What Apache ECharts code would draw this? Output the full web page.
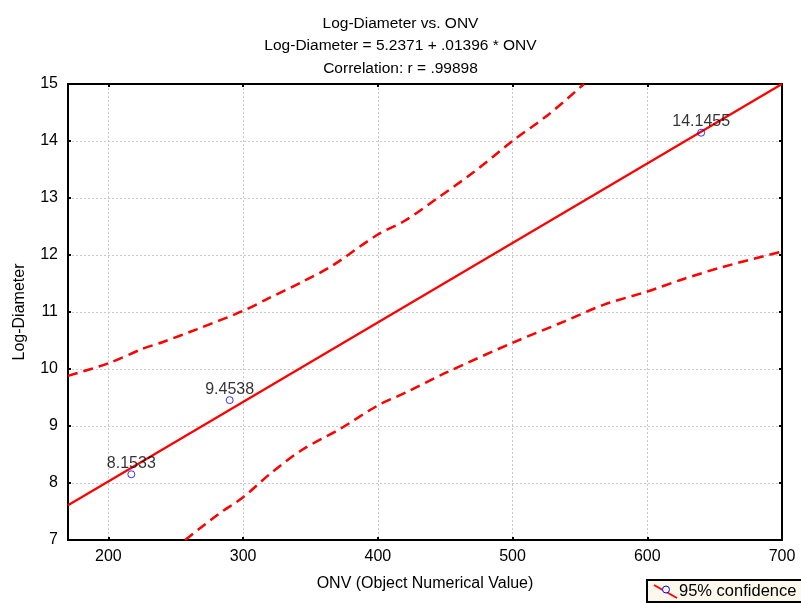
<!DOCTYPE html>
<html>
<head>
<meta charset="utf-8">
<script src="https://cdn.jsdelivr.net/npm/echarts@6/dist/echarts.min.js"></script>
<style>html,body{margin:0;padding:0;background:#fff}#c{width:801px;height:603px}</style>
</head>
<body>
<div id="c"></div>
<script>
// ---- data ----
var titleLines = ['Log-Diameter vs. ONV', 'Log-Diameter = 5.2371 + .01396 * ONV', 'Correlation: r = .99898'];
var xTicks = [200, 300, 400, 500, 600, 700];
var pointX = [217, 290, 640];
var pointY = [8.1533, 9.4538, 14.1455];
var fitX = [170, 700];
var fitY = [7.61, 15.0];
var upperX = [170, 200, 225, 240, 266, 300, 318, 344, 366, 400, 420, 445, 471, 500, 527, 553];
var upperY = [9.88, 10.10, 10.35, 10.47, 10.70, 11.02, 11.23, 11.53, 11.81, 12.36, 12.60, 13.01, 13.45, 14.00, 14.47, 15.0];
var lowerX = [257, 282, 300, 320, 343, 372, 400, 421, 451, 500, 539, 568, 600, 627, 656, 700];
var lowerY = [7.0, 7.46, 7.75, 8.16, 8.57, 8.95, 9.36, 9.59, 9.94, 10.46, 10.84, 11.13, 11.36, 11.58, 11.79, 12.06];
var legendText = '95% confidence';

function zip(a, b) { return a.map(function (v, i) { return [v, b[i]]; }); }

var AX = 'Liberation Sans, Arial, sans-serif';
var chart = echarts.init(document.getElementById('c'), null, { renderer: 'canvas' });
var tickStyle = { show: true, inside: true, length: 3, lineStyle: { color: '#000', width: 2 } };
chart.setOption({
  animation: false,
  backgroundColor: '#fff',
  title: {
    text: titleLines.join('\n'),
    left: 'center', top: 7,
    textStyle: { fontFamily: AX, fontSize: 15.5, fontWeight: 'normal', color: '#000', lineHeight: 22.5 }
  },
  grid: { left: 68, right: 19, top: 84, bottom: 63, show: false },
  xAxis: [{
    type: 'value', min: 170, max: 700, position: 'bottom',
    name: 'ONV (Object Numerical Value)', nameLocation: 'middle', nameGap: 36,
    nameTextStyle: { fontFamily: AX, fontSize: 16, color: '#000' },
    axisLine: { show: true, onZero: false, lineStyle: { color: '#000', width: 2 } },
    axisTick: Object.assign({ customValues: xTicks }, tickStyle),
    axisLabel: { customValues: xTicks, fontFamily: AX, fontSize: 16, color: '#000', margin: 9 },
    splitLine: { show: true, lineStyle: { color: '#c8c8c8', type: [2, 2], width: 1 } }
  }, {
    type: 'value', min: 170, max: 700, position: 'top',
    axisLine: { show: true, onZero: false, lineStyle: { color: '#000', width: 2 } },
    axisTick: Object.assign({ customValues: xTicks }, tickStyle),
    axisLabel: { show: false }, splitLine: { show: false }
  }],
  yAxis: [{
    type: 'value', min: 7, max: 15, interval: 1, position: 'left',
    name: 'Log-Diameter', nameLocation: 'middle', nameGap: 40,
    nameTextStyle: { fontFamily: AX, fontSize: 16, color: '#000' },
    axisLine: { show: true, onZero: false, lineStyle: { color: '#000', width: 2 } },
    axisTick: tickStyle,
    axisLabel: { fontFamily: AX, fontSize: 16, color: '#000', margin: 10 },
    splitLine: { show: true, lineStyle: { color: '#c8c8c8', type: [2, 2], width: 1 } }
  }, {
    type: 'value', min: 7, max: 15, interval: 1, position: 'right',
    axisLine: { show: true, onZero: false, lineStyle: { color: '#000', width: 2 } },
    axisTick: tickStyle, axisLabel: { show: false }, splitLine: { show: false }
  }],
  series: [{
    type: 'line', data: zip(upperX, upperY), smooth: 0.3, symbol: 'none', clip: true,
    lineStyle: { color: '#ff0000', width: 2.5, type: [10, 6] }
  }, {
    type: 'line', data: zip(lowerX, lowerY), smooth: 0.3, symbol: 'none', clip: true,
    lineStyle: { color: '#ff0000', width: 2.5, type: [10, 6] }
  }, {
    type: 'line', data: zip(fitX, fitY), symbol: 'none',
    lineStyle: { color: '#ff0000', width: 2.2 }
  }, {
    type: 'scatter', data: zip(pointX, pointY), symbol: 'circle', symbolSize: 7,
    itemStyle: { color: 'transparent', borderColor: '#0000ff', borderWidth: 1 },
    label: { show: true, position: 'top', distance: -1, fontFamily: AX, fontSize: 16, color: '#000',
      formatter: function (p) { return p.value[1].toFixed(4); } },
    z: 5
  }],
  graphic: [{
    type: 'group', left: 646, top: 579,
    children: [
      { type: 'rect', shape: { x: 0, y: 0, width: 160, height: 22 }, style: { fill: '#fdf8ec', stroke: '#000', lineWidth: 2 } },
      { type: 'line', shape: { x1: 7, y1: 5, x2: 30, y2: 18 }, style: { stroke: '#ff0000', lineWidth: 2 } },
      { type: 'circle', shape: { cx: 19, cy: 9.5, r: 3.5 }, style: { fill: '#fdf8ec', stroke: '#0000ff', lineWidth: 1 } },
      { type: 'text', x: 32, y: 11.5, style: { text: legendText, fontFamily: AX, fontSize: 16.5, fill: '#000', verticalAlign: 'middle', align: 'left' } }
    ]
  }]
});
</script>
</body>
</html>
